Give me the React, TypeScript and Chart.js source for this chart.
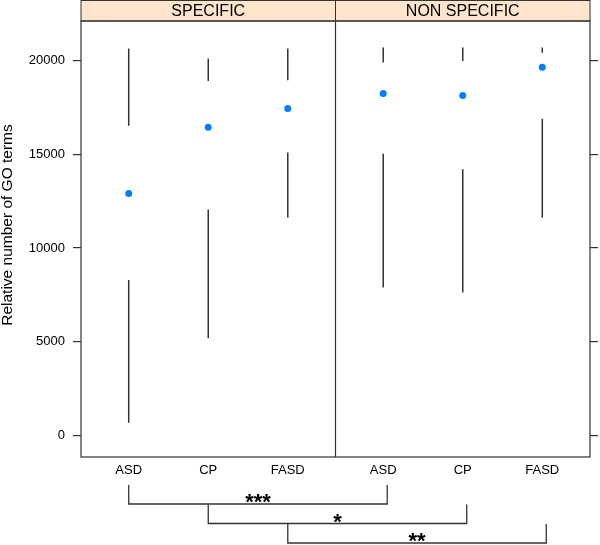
import React, { useEffect, useRef } from "react";
import { Chart, registerables } from "chart.js";

Chart.register(...registerables);

const panels = ["SPECIFIC", "NON SPECIFIC"];
const categories = ["ASD", "CP", "FASD"];
// values per group: SPECIFIC ASD, CP, FASD, NON SPECIFIC ASD, CP, FASD
const whiskerLow = [672, 5176, 11633, 7897, 7630, 11612];
const boxLow = [8287, 12060, 15101, 15027, 14210, 16895];
const medians = [12914, 16451, 17449, 18250, 18143, 19653];
const boxHigh = [16521, 18922, 18960, 19904, 19990, 20420];
const whiskerHigh = [20650, 20117, 20650, 20704, 20704, 20704];
const yTicks = [0, 5000, 10000, 15000, 20000];
const yTitle = "Relative number of GO terms";
const bracketFrom = [0, 1, 2];
const bracketTo = [3, 4, 5];
const bracketLabels = ["***", "*", "**"];

const Y_MIN = -1160;
const Y_MAX = 22120;
const PANEL_W = 3.2;
const FONT = "'Liberation Sans', Arial, Helvetica, sans-serif";
const LINE = "#333333";

const groupPos = (g: number) => Math.floor(g / 3) * PANEL_W + (g % 3) + 1;
const groupLabels = panels.flatMap(() => categories);
const positions = groupLabels.map((_, i) => groupPos(i));

const decorPlugin = {
  id: "decor",
  afterDraw(chart: any) {
    const { ctx, chartArea, scales } = chart;
    const xs = scales.x;
    ctx.save();
    // strips
    panels.forEach((p, i) => {
      const x0 = xs.getPixelForValue(0.4 + i * PANEL_W);
      const x1 = xs.getPixelForValue(0.4 + (i + 1) * PANEL_W);
      ctx.fillStyle = "#FFE5CC";
      ctx.fillRect(x0, 0.5, x1 - x0, chartArea.top - 0.5);
      ctx.strokeStyle = LINE;
      ctx.lineWidth = 1;
      ctx.strokeRect(x0, 0.5, x1 - x0, chartArea.top - 0.5);
      ctx.fillStyle = "#000";
      ctx.font = `16px ${FONT}`;
      ctx.textAlign = "center";
      ctx.textBaseline = "middle";
      ctx.fillText(p, (x0 + x1) / 2, chartArea.top / 2 + 1);
    });
    // frame
    ctx.strokeStyle = LINE;
    ctx.lineWidth = 1.2;
    ctx.strokeRect(chartArea.left, chartArea.top, chartArea.right - chartArea.left, chartArea.bottom - chartArea.top);
    const xd = xs.getPixelForValue(0.4 + PANEL_W);
    ctx.beginPath();
    ctx.moveTo(xd, chartArea.top);
    ctx.lineTo(xd, chartArea.bottom);
    ctx.stroke();
    // y title
    ctx.save();
    ctx.translate(8, 225);
    ctx.rotate(-Math.PI / 2);
    ctx.fillStyle = "#000";
    ctx.font = `15.5px ${FONT}`;
    ctx.textAlign = "center";
    ctx.textBaseline = "middle";
    ctx.fillText(yTitle, 0, 0);
    ctx.restore();
    // significance brackets
    ctx.lineWidth = 1.3;
    ctx.strokeStyle = LINE;
    bracketFrom.forEach((f, i) => {
      const xa = xs.getPixelForValue(positions[f]);
      const xb = xs.getPixelForValue(positions[bracketTo[i]]) + 4;
      const top = chartArea.bottom + 28 + i * 19.5;
      const base = top + 19;
      ctx.beginPath();
      ctx.moveTo(xa, top);
      ctx.lineTo(xa, base);
      ctx.lineTo(xb, base);
      ctx.lineTo(xb, top);
      ctx.stroke();
      ctx.fillStyle = "#000";
      ctx.font = `bold 22px ${FONT}`;
      ctx.textAlign = "center";
      ctx.textBaseline = "alphabetic";
      ctx.fillText(bracketLabels[i], (xa + xb) / 2, base + 5);
    });
    ctx.restore();
  },
};

export default function App() {
  const ref = useRef<HTMLCanvasElement | null>(null);
  useEffect(() => {
    if (!ref.current) return;
    const whiskerData: any[] = [];
    positions.forEach((x, i) => {
      whiskerData.push({ x, y: whiskerLow[i] }, { x, y: boxLow[i] }, { x, y: null });
      whiskerData.push({ x, y: boxHigh[i] }, { x, y: whiskerHigh[i] }, { x, y: null });
    });
    const medianData = positions.map((x, i) => ({ x, y: medians[i] }));
    const yGrid = { drawOnChartArea: false, drawTicks: true, tickLength: 8, color: LINE, lineWidth: 1.2 };
    const chart = new Chart(ref.current, {
      type: "scatter",
      data: {
        datasets: [
          {
            label: "whiskers",
            data: whiskerData,
            showLine: true,
            spanGaps: false,
            borderColor: LINE,
            borderWidth: 1.5,
            pointRadius: 0,
          } as any,
          {
            label: "median",
            data: medianData,
            pointRadius: 3.5,
            backgroundColor: "#0080ff",
            borderWidth: 0,
          },
        ],
      },
      options: {
        animation: false,
        responsive: true,
        maintainAspectRatio: false,
        layout: { padding: { top: 21, left: 0, right: 0, bottom: 0 } },
        plugins: { legend: { display: false }, tooltip: { enabled: false } },
        scales: {
          x: {
            type: "linear",
            min: 0.4,
            max: 0.4 + 2 * PANEL_W,
            position: "bottom",
            afterBuildTicks: (s: any) => {
              s.ticks = positions.map((v) => ({ value: v }));
            },
            afterFit: (s: any) => {
              s.height = 88;
            },
            grid: { display: false, drawTicks: false },
            border: { display: false },
            ticks: {
              autoSkip: false,
              maxRotation: 0,
              padding: 6,
              color: "#000",
              font: { family: FONT, size: 13 },
              callback: (_v: any, i: number) => groupLabels[i],
            },
          },
          y: {
            type: "linear",
            position: "left",
            min: Y_MIN,
            max: Y_MAX,
            afterBuildTicks: (s: any) => {
              s.ticks = yTicks.map((v) => ({ value: v }));
            },
            afterFit: (s: any) => {
              s.width = 81;
            },
            grid: yGrid,
            border: { display: false },
            ticks: {
              padding: 8,
              color: "#000",
              font: { family: FONT, size: 13 },
              callback: (v: any) => String(v),
            },
          },
          y2: {
            type: "linear",
            position: "right",
            min: Y_MIN,
            max: Y_MAX,
            afterBuildTicks: (s: any) => {
              s.ticks = yTicks.map((v) => ({ value: v }));
            },
            afterFit: (s: any) => {
              s.width = 10;
            },
            grid: yGrid,
            border: { display: false },
            ticks: { display: false },
          },
        },
      } as any,
      plugins: [decorPlugin],
    });
    return () => chart.destroy();
  }, []);
  return (
    <div style={{ position: "fixed", left: 0, top: 0, width: 600, height: 545, background: "#fff" }}>
      <canvas ref={ref} />
    </div>
  );
}
